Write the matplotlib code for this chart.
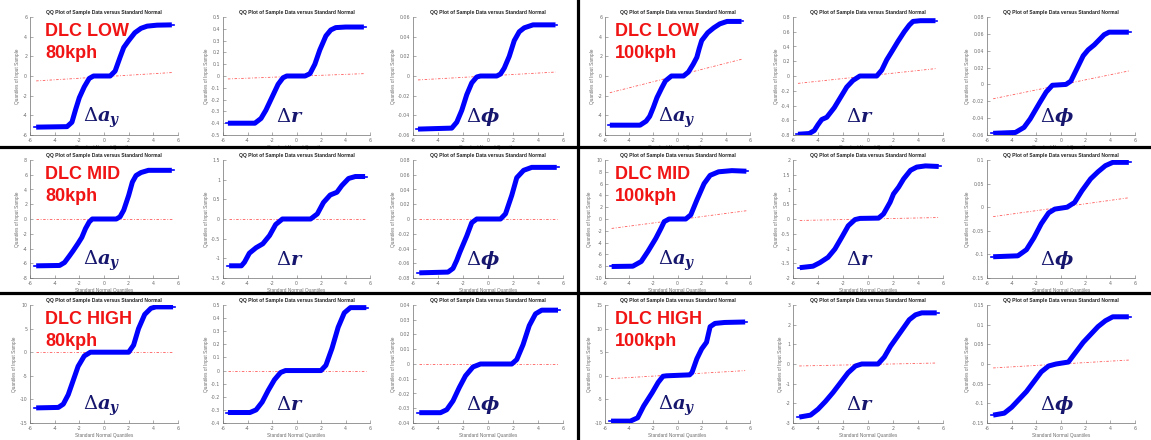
import matplotlib
matplotlib.use("Agg")
import matplotlib.pyplot as plt
from matplotlib.lines import Line2D

plt.rcParams["mathtext.fontset"] = "custom"
plt.rcParams["mathtext.rm"] = "DejaVu Serif"
plt.rcParams["mathtext.it"] = "DejaVu Serif:italic:bold"
plt.rcParams["mathtext.bf"] = "DejaVu Serif:bold"

# ---------------- data: QQ curves (theoretical quantile, sample quantile) ----------------
# DLC LOW 80kph
low80_ay_x = [-5.5, -3.0, -2.6, -2.3, -2.0, -1.6, -1.2, -0.85, 0.5, 0.9, 1.3, 1.6, 2.0, 2.5, 3.0, 3.5, 4.3, 5.5]
low80_ay_y = [-5.2, -5.15, -4.7, -3.4, -2.2, -1.1, -0.25, 0.0, 0.0, 0.5, 1.9, 2.9, 3.6, 4.4, 4.85, 5.07, 5.17, 5.2]
low80_r_x = [-5.6, -3.4, -2.9, -2.5, -2.0, -1.5, -1.1, -0.8, 0.7, 1.1, 1.5, 1.9, 2.4, 2.8, 3.2, 4.0, 5.5]
low80_r_y = [-0.40, -0.40, -0.36, -0.29, -0.18, -0.07, -0.015, 0.0, 0.0, 0.02, 0.1, 0.22, 0.34, 0.39, 0.41, 0.415, 0.415]
low80_phi_x = [-5.6, -2.9, -2.5, -2.1, -1.7, -1.3, -0.9, -0.6, 0.7, 1.0, 1.3, 1.7, 2.1, 2.5, 2.9, 3.6, 5.4]
low80_phi_y = [-0.054, -0.053, -0.047, -0.035, -0.019, -0.007, -0.001, 0.0, 0.0, 0.002, 0.008, 0.02, 0.036, 0.045, 0.049, 0.052, 0.052]
# DLC LOW 100kph
low100_ay_x = [-5.6, -3.1, -2.6, -2.3, -2.0, -1.7, -1.3, -1.0, -0.5, 0.5, 0.9, 1.3, 1.6, 1.8, 2.0, 2.5, 3.0, 3.5, 4.1, 5.3]
low100_ay_y = [-5.0, -5.0, -4.6, -4.1, -3.2, -2.2, -1.2, -0.5, 0.0, 0.0, 0.4, 1.2, 1.9, 2.8, 3.6, 4.4, 4.9, 5.3, 5.55, 5.55]
low100_r_x = [-5.6, -4.7, -4.3, -4.0, -3.7, -3.3, -2.7, -2.2, -1.7, -1.2, -0.65, 0.7, 1.1, 1.5, 1.9, 2.4, 2.9, 3.3, 3.6, 4.2, 5.4]
low100_r_y = [-0.79, -0.78, -0.74, -0.66, -0.59, -0.56, -0.43, -0.29, -0.15, -0.06, 0.0, 0.0, 0.08, 0.22, 0.33, 0.47, 0.6, 0.69, 0.74, 0.75, 0.75]
low100_phi_x = [-5.5, -3.7, -3.0, -2.5, -2.1, -1.7, -1.2, -0.7, 0.4, 0.8, 1.3, 1.8, 2.2, 2.7, 3.1, 3.5, 3.9, 5.5]
low100_phi_y = [-0.058, -0.057, -0.051, -0.041, -0.031, -0.021, -0.009, -0.001, 0.0, 0.004, 0.019, 0.034, 0.041, 0.047, 0.053, 0.059, 0.062, 0.062]
# DLC MID 80kph
mid80_ay_x = [-5.5, -3.6, -3.2, -2.8, -2.5, -2.1, -1.8, -1.5, -1.2, -0.95, 1.0, 1.3, 1.6, 2.0, 2.3, 2.6, 3.0, 3.6, 5.5]
mid80_ay_y = [-6.35, -6.3, -5.9, -5.0, -4.3, -3.3, -2.5, -1.3, -0.4, 0.0, 0.0, 0.3, 1.2, 3.2, 5.0, 5.9, 6.3, 6.6, 6.6]
mid80_r_x = [-5.5, -4.5, -4.25, -3.85, -3.3, -2.75, -2.2, -1.7, -1.15, 1.15, 1.7, 2.2, 2.75, 3.3, 3.7, 4.25, 4.8, 5.6]
mid80_r_y = [-1.19, -1.19, -1.1, -0.87, -0.73, -0.63, -0.42, -0.14, 0.0, 0.0, 0.13, 0.42, 0.61, 0.68, 0.85, 1.03, 1.08, 1.08]
mid80_phi_x = [-5.5, -3.2, -2.8, -2.5, -2.25, -1.7, -1.3, -0.9, 1.0, 1.4, 1.7, 1.9, 2.3, 2.85, 3.5, 5.5]
mid80_phi_y = [-0.073, -0.072, -0.067, -0.056, -0.045, -0.023, -0.005, 0.0, 0.0, 0.007, 0.022, 0.032, 0.056, 0.066, 0.07, 0.07]
# DLC MID 100kph
mid100_ay_x = [-5.45, -3.7, -3.0, -2.45, -1.8, -1.37, -1.1, -0.7, 0.68, 1.1, 1.6, 2.2, 2.7, 3.4, 4.5, 5.7]
mid100_ay_y = [-8.05, -8.0, -7.2, -5.5, -3.3, -1.6, -0.45, 0.0, 0.0, 0.7, 3.2, 6.0, 7.4, 8.0, 8.2, 8.1]
mid100_r_x = [-5.46, -4.4, -3.85, -3.2, -2.65, -2.1, -1.58, -1.04, -0.64, 0.84, 1.24, 1.77, 2.04, 2.45, 2.85, 3.4, 3.9, 4.6, 5.66]
mid100_r_y = [-1.65, -1.6, -1.48, -1.3, -1.02, -0.62, -0.23, -0.02, 0.02, 0.03, 0.17, 0.57, 0.85, 1.08, 1.36, 1.65, 1.76, 1.8, 1.78]
mid100_phi_x = [-5.5, -3.5, -2.8, -2.2, -1.6, -1.0, -0.5, 0.5, 1.1, 1.7, 2.4, 3.0, 3.6, 4.2, 5.5]
mid100_phi_y = [-0.105, -0.103, -0.09, -0.065, -0.035, -0.012, -0.004, 0.0, 0.01, 0.035, 0.06, 0.075, 0.088, 0.095, 0.095]
# DLC HIGH 80kph
high80_ay_x = [-5.5, -3.7, -3.3, -2.9, -2.5, -2.1, -1.6, -1.1, 2.0, 2.4, 2.8, 3.3, 3.8, 4.2, 5.6]
high80_ay_y = [-11.8, -11.7, -11.0, -9.0, -6.0, -3.0, -0.8, 0.0, 0.0, 1.5, 5.0, 8.0, 9.3, 9.6, 9.6]
high80_r_x = [-5.6, -3.8, -3.3, -2.8, -2.3, -1.8, -1.3, -0.9, 2.0, 2.4, 2.9, 3.4, 3.9, 4.4, 5.7]
high80_r_y = [-0.32, -0.32, -0.3, -0.24, -0.15, -0.07, -0.015, 0.0, 0.0, 0.04, 0.17, 0.33, 0.44, 0.48, 0.48]
high80_phi_x = [-5.5, -3.8, -3.3, -2.8, -2.3, -1.8, -1.2, -0.6, 1.9, 2.3, 2.8, 3.3, 3.8, 4.3, 5.6]
high80_phi_y = [-0.033, -0.033, -0.031, -0.025, -0.016, -0.008, -0.002, 0.0, 0.0, 0.003, 0.013, 0.026, 0.034, 0.0365, 0.0365]
# DLC HIGH 100kph
high100_ay_x = [-5.5, -3.9, -3.3, -2.8, -2.1, -1.6, -1.2, -0.9, 1.0, 1.2, 1.6, 2.0, 2.4, 2.7, 3.1, 3.9, 5.6]
high100_ay_y = [-9.6, -9.6, -8.9, -6.4, -3.6, -1.4, -0.1, 0.0, 0.2, 0.7, 3.6, 5.7, 7.1, 10.4, 11.1, 11.3, 11.4]
high100_r_x = [-5.5, -4.6, -4.0, -3.4, -2.8, -2.2, -1.6, -1.0, -0.5, 0.8, 1.3, 1.8, 2.3, 2.8, 3.3, 3.8, 4.3, 5.5]
high100_r_y = [-2.7, -2.6, -2.3, -1.9, -1.45, -0.95, -0.45, -0.1, 0.0, 0.0, 0.35, 0.9, 1.35, 1.8, 2.25, 2.5, 2.6, 2.6]
high100_phi_x = [-5.5, -4.6, -4.0, -3.4, -2.8, -2.2, -1.6, -1.0, -0.4, 0.6, 1.2, 1.8, 2.4, 3.0, 3.6, 4.2, 5.5]
high100_phi_y = [-0.13, -0.125, -0.11, -0.09, -0.07, -0.045, -0.02, -0.005, 0.0, 0.005, 0.03, 0.055, 0.075, 0.095, 0.11, 0.12, 0.12]

# red reference lines (y at the two ends of the x range)
ref_ends = {
    "low80_ay": (-0.5, 0.35), "low80_r": (-0.025, 0.02), "low80_phi": (-0.004, 0.004),
    "low100_ay": (-1.7, 1.7), "low100_r": (-0.1, 0.1), "low100_phi": (-0.017, 0.016),
    "mid80_ay": (0.0, 0.0), "mid80_r": (0.0, 0.0), "mid80_phi": (0.0, 0.0),
    "mid100_ay": (-1.6, 1.4), "mid100_r": (-0.05, 0.05), "mid100_phi": (-0.02, 0.02),
    "high80_ay": (0.0, 0.0), "high80_r": (0.0, 0.0), "high80_phi": (0.0, 0.0),
    "high100_ay": (-0.6, 1.1), "high100_r": (-0.1, 0.05), "high100_phi": (-0.01, 0.01),
}

# y ticks per panel
yt_low80_ay = [-6, -4, -2, 0, 2, 4, 6]
yt_low80_r = [-0.5, -0.4, -0.3, -0.2, -0.1, 0, 0.1, 0.2, 0.3, 0.4, 0.5]
yt_low80_phi = [-0.06, -0.04, -0.02, 0, 0.02, 0.04, 0.06]
yt_low100_ay = [-6, -4, -2, 0, 2, 4, 6]
yt_low100_r = [-0.8, -0.6, -0.4, -0.2, 0, 0.2, 0.4, 0.6, 0.8]
yt_low100_phi = [-0.06, -0.04, -0.02, 0, 0.02, 0.04, 0.06, 0.08]
yt_mid80_ay = [-8, -6, -4, -2, 0, 2, 4, 6, 8]
yt_mid80_r = [-1.5, -1, -0.5, 0, 0.5, 1, 1.5]
yt_mid80_phi = [-0.08, -0.06, -0.04, -0.02, 0, 0.02, 0.04, 0.06, 0.08]
yt_mid100_ay = [-10, -8, -6, -4, -2, 0, 2, 4, 6, 8, 10]
yt_mid100_r = [-2, -1.5, -1, -0.5, 0, 0.5, 1, 1.5, 2]
yt_mid100_phi = [-0.15, -0.1, -0.05, 0, 0.05, 0.1]
yt_high80_ay = [-15, -10, -5, 0, 5, 10]
yt_high80_r = [-0.4, -0.3, -0.2, -0.1, 0, 0.1, 0.2, 0.3, 0.4, 0.5]
yt_high80_phi = [-0.04, -0.03, -0.02, -0.01, 0, 0.01, 0.02, 0.03, 0.04]
yt_high100_ay = [-10, -5, 0, 5, 10, 15]
yt_high100_r = [-3, -2, -1, 0, 1, 2, 3]
yt_high100_phi = [-0.15, -0.1, -0.05, 0, 0.05, 0.1, 0.15]

x_ticks = [-6, -4, -2, 0, 2, 4, 6]

row_names = ["LOW", "MID", "HIGH"]
speeds = ["80kph", "100kph"]
signals = ["ay", "r", "phi"]
signal_tex = {"ay": r"$\Delta a_y$", "r": r"$\Delta r$", "phi": r"$\Delta \phi$"}

# ---------------- layout (pixels) ----------------
W, H = 1151, 440
col_left = [30, 223, 413, 605, 793, 987]
col_right = [178, 370, 563, 750, 943, 1135]
row_top = [17, 160, 305]
row_bot = [135, 278, 423]

fig = plt.figure(figsize=(W / 100, H / 100), dpi=100)
fig.patch.set_facecolor("white")

g = globals()
axis_grey = "#6e6e6e"


def fmt(v):
    s = ("%g" % v)
    return "0" if s in ("-0", "0") else s


for ri, rname in enumerate(row_names):
    for si, speed in enumerate(speeds):
        for ki, sig in enumerate(signals):
            ci = si * 3 + ki
            key = f"{rname.lower()}{speed[:-3]}_{sig}"
            xs = g[key + "_x"]
            ys = g[key + "_y"]
            yt = g["yt_" + key]
            l, r = col_left[ci], col_right[ci]
            t, b = row_top[ri], row_bot[ri]
            ax = fig.add_axes([l / W, 1 - b / H, (r - l) / W, (b - t) / H])
            ax.set_xlim(-6, 6)
            ax.set_ylim(yt[0], yt[-1])
            y0, y1 = ref_ends[key]
            ax.plot([xs[0], xs[-1]], [y0, y1], color="#ff3030", lw=0.6,
                    ls=(0, (3, 2, 1, 2)), alpha=0.8, zorder=2)
            ax.plot(xs, ys, color="#0000ff", lw=3.6, solid_joinstyle="round",
                    solid_capstyle="butt", zorder=3)
            ax.plot([xs[0] - 0.15, xs[0]], [ys[0], ys[0]], color="#0000ff", lw=1.2, zorder=3)
            ax.plot([xs[-1], xs[-1] + 0.15], [ys[-1], ys[-1]], color="#0000ff", lw=1.2, zorder=3)

            ax.set_xticks(x_ticks)
            ax.set_xticklabels([fmt(v) for v in x_ticks])
            ax.set_yticks(yt)
            ax.set_yticklabels([fmt(v) for v in yt])
            ax.tick_params(direction="in", length=2, width=0.4, colors=axis_grey,
                           labelsize=3.4, pad=2)
            for sp in ("top", "right"):
                ax.spines[sp].set_visible(False)
            for sp in ("left", "bottom"):
                ax.spines[sp].set_color(axis_grey)
                ax.spines[sp].set_linewidth(0.5)
            ax.set_title("QQ Plot of Sample Data versus Standard Normal",
                         fontsize=3.6, fontweight="bold", pad=2.5, color="#222222",
                         family="Liberation Sans")
            ax.set_xlabel("Standard Normal Quantiles", fontsize=3.4, labelpad=1.5,
                          color=axis_grey, family="Liberation Sans")
            ax.set_ylabel("Quantiles of Input Sample", fontsize=3.4, labelpad=1.5,
                          color=axis_grey, family="Liberation Sans")

            # signal symbol
            ax.text(53 / (r - l), 13 / (b - t), signal_tex[sig], transform=ax.transAxes,
                    fontsize=14, color="#16166e", va="baseline", ha="left", zorder=5)

            # case label in the first panel of each block
            if ki == 0:
                off = 15 if si == 0 else 10
                ax.text(off / (r - l), 1 - 19 / (b - t), f"DLC {rname}", transform=ax.transAxes,
                        fontsize=13, fontweight="bold", color="#f01414", va="baseline",
                        ha="left", family="Liberation Sans", zorder=5)
                ax.text(off / (r - l), 1 - 41 / (b - t), speed, transform=ax.transAxes,
                        fontsize=13, fontweight="bold", color="#f01414", va="baseline",
                        ha="left", family="Liberation Sans", zorder=5)

# black separators between the blocks
for yp in (147, 293):
    fig.add_artist(Line2D([0, 1], [1 - yp / H, 1 - yp / H], color="black", lw=2.3))
fig.add_artist(Line2D([578 / W, 578 / W], [0, 1], color="black", lw=2.3))

fig.savefig("out.png", dpi=100, facecolor="white")
